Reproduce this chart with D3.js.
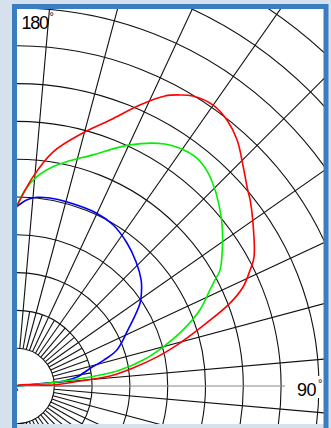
<!DOCTYPE html>
<html>
<head>
<meta charset="utf-8">
<script src="https://cdn.jsdelivr.net/npm/d3@7"></script>
<style>
  html, body { margin: 0; padding: 0; background: #d6e1ee; }
  svg { display: block; }
  text { font-family: "Liberation Sans", Arial, sans-serif; fill: #000; }
</style>
</head>
<body>
<div id="chart"></div>
<script>
// polar values: [angle in degrees, relative intensity]
const redCurve = [
  [15, 1.3], [90, 0], [91.6, 9.7], [94.5, 16.9], [96.1, 24.9], [98.8, 31.2], [101.7, 38.0],
  [104.3, 43.8], [107.5, 50.9], [111.2, 60.6], [113.6, 65.4], [116.4, 69.0], [118.5, 71.5],
  [124.6, 76.0], [128.5, 79.0], [130.3, 80.2], [134.0, 83.4], [138.1, 87.4], [141.6, 89.7],
  [145.0, 90.7], [148.7, 89.8], [150.7, 88.3], [152.9, 86.2], [156.3, 81.2], [160.6, 74.6],
  [165.3, 69.2], [171.1, 62.7], [175.5, 55.5], [180, 47.4]
];
const greenCurve = [
  [90, 0], [94.6, 4.9], [95.6, 10.8], [97.5, 22.3], [98.8, 27.7], [101.6, 34.2], [104.9, 40.1],
  [108.6, 46.5], [112.5, 52.5], [116.4, 57.1], [118.1, 59.5], [119.7, 62.0], [125.3, 66.8],
  [129.0, 69.8], [132.7, 72.5], [134.6, 73.8], [138.0, 75.8], [141.7, 76.9], [145.5, 76.3],
  [148.5, 75.1], [154.8, 70.5], [161.7, 64.4], [167.4, 60.8], [170.6, 58.8], [174.5, 55.6],
  [177.5, 51.9], [180, 47.4]
];
const blueCurve = [
  [90, 0], [95.6, 8.1], [96.0, 12.6], [98.5, 16.2], [103.6, 20.2], [106.5, 24.1], [109.7, 28.2],
  [116.7, 33.0], [123.9, 39.4], [127.5, 41.7], [130.4, 43.3], [136.1, 45.6], [142.3, 47.8],
  [149.1, 49.7], [155.1, 50.4], [164.8, 50.5], [169.9, 50.5], [173.9, 50.2], [176.9, 49.3],
  [180, 47.4]
];
const ringValues = d3.range(10, 140, 10);
const longSpokes = d3.range(5, 180, 10);   // run out to the frame
const shortSpokes = d3.range(10, 180, 10); // only between first and second ring
const axisLabels = [{ text: '180', angle: 180 }, { text: '90', angle: 90 }];

const width = 331, height = 428;
const origin = { x: 16.5, y: 386 };
const plot = { x: 17, y: 9, w: 307, h: 415 };

const svg = d3.select('#chart').append('svg')
    .attr('width', width)
    .attr('height', height);

svg.append('defs').append('clipPath')
    .attr('id', 'plot-clip')
  .append('rect')
    .attr('x', plot.x).attr('y', plot.y)
    .attr('width', plot.w).attr('height', plot.h);

svg.append('rect')
    .attr('x', plot.x).attr('y', plot.y)
    .attr('width', plot.w).attr('height', plot.h)
    .attr('fill', '#fff');

const g = svg.append('g')
    .attr('clip-path', 'url(#plot-clip)')
  .append('g')
    .attr('transform', `translate(${origin.x},${origin.y})`);

// 180 deg points up, 90 deg points right
const aScale = d3.scaleLinear().domain([0, 180]).range([Math.PI, 0]);
const rScale = d3.scaleLinear().domain([0, 100]).range([0, 378]);

// rings
g.selectAll('.ring')
    .data(ringValues)
  .enter().append('circle')
    .attr('class', 'ring')
    .attr('r', d => rScale(d))
    .attr('fill', 'none')
    .attr('stroke', '#111')
    .attr('stroke-width', 1.1);

// spokes
const spoke = (a, r0, r1) => {
    const p0 = d3.pointRadial(aScale(a), rScale(r0));
    const p1 = d3.pointRadial(aScale(a), rScale(r1));
    return `M${p0}L${p1}`;
};

g.selectAll('.spoke-long')
    .data(longSpokes)
  .enter().append('path')
    .attr('class', 'spoke-long')
    .attr('d', d => spoke(d, 10, 140))
    .attr('stroke', '#111')
    .attr('stroke-width', 1.1);

g.selectAll('.spoke-short')
    .data(shortSpokes)
  .enter().append('path')
    .attr('class', 'spoke-short')
    .attr('d', d => spoke(d, 10, 20))
    .attr('stroke', '#111')
    .attr('stroke-width', 1.1);

// 90 deg reference line
g.append('path')
    .attr('d', spoke(90, 0, 71))
    .attr('stroke', '#888')
    .attr('stroke-width', 1);

// curves
const line = d3.lineRadial()
    .angle(d => aScale(d[0]))
    .radius(d => rScale(d[1]))
    .curve(d3.curveCatmullRom);

[[blueCurve, '#0000ff'], [greenCurve, '#00f000'], [redCurve, '#ff0000']].forEach(([data, color]) => {
    g.append('path')
        .datum(data)
        .attr('d', line)
        .attr('fill', 'none')
        .attr('stroke', color)
        .attr('stroke-width', 1.6);
});

// angle labels
svg.append('rect').attr('x', 20).attr('y', 10).attr('width', 27).attr('height', 21).attr('fill', '#fff');
svg.append('rect').attr('x', 294).attr('y', 376).attr('width', 29).attr('height', 22).attr('fill', '#fff');

svg.append('text').attr('x', 21.5).attr('y', 28.5).attr('font-size', 18)
    .attr('letter-spacing', -1.3).text(axisLabels[0].text);
svg.append('text').attr('x', 49.5).attr('y', 19.5).attr('font-size', 11).text('°');
svg.append('text').attr('x', 297).attr('y', 395.5).attr('font-size', 18)
    .attr('letter-spacing', -0.6).text(axisLabels[1].text);
svg.append('text').attr('x', 318).attr('y', 387).attr('font-size', 11).text('°');

// frame
svg.append('rect')
    .attr('x', 14.5).attr('y', 6.5)
    .attr('width', 311.5).attr('height', 430)
    .attr('fill', 'none')
    .attr('stroke', '#3c7dbf')
    .attr('stroke-width', 5);
</script>
</body>
</html>
